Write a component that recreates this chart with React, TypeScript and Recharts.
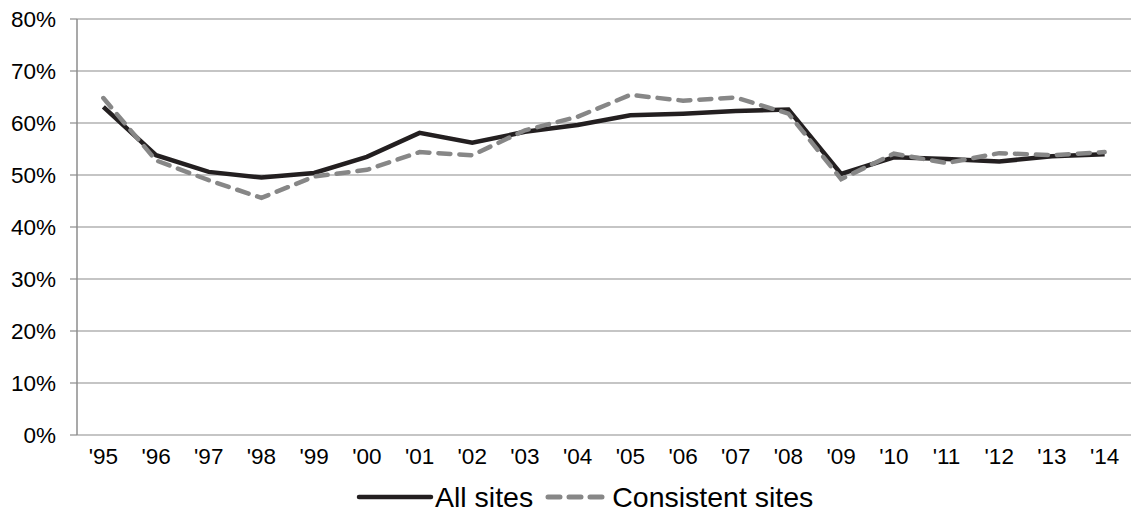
import React from "react";
import { LineChart, Line, XAxis, YAxis, CartesianGrid, Legend } from "recharts";

const years = ["'95", "'96", "'97", "'98", "'99", "'00", "'01", "'02", "'03", "'04", "'05", "'06", "'07", "'08", "'09", "'10", "'11", "'12", "'13", "'14"];
const allSites = [63.1, 53.8, 50.6, 49.5, 50.4, 53.5, 58.1, 56.2, 58.3, 59.6, 61.5, 61.8, 62.3, 62.6, 50.2, 53.4, 53.1, 52.6, 53.6, 54.0];
const consistentSites = [64.8, 52.8, 49.0, 45.6, 49.7, 51.0, 54.4, 53.8, 58.6, 61.2, 65.4, 64.3, 64.9, 61.8, 49.2, 54.1, 52.3, 54.2, 53.8, 54.4];
const yTicks = [0, 10, 20, 30, 40, 50, 60, 70, 80];

const data = years.map((label, i) => ({
  pos: i + 0.5,
  label,
  all: allSites[i],
  consistent: consistentSites[i],
}));
const boundaryTicks = years.map((_, i) => i).concat([years.length]);
const centerTicks = years.map((_, i) => i + 0.5);

const FONT = "'Liberation Sans', Arial, sans-serif";
const GRID = "#8c8c8c";
const SOLID = "#231f20";
const DASH = "#878787";

const LegendContent = () => (
  <div style={{ display: "flex", justifyContent: "flex-start", alignItems: "center", fontFamily: FONT, fontSize: 28.5, color: "#000", paddingLeft: 356, height: 30, lineHeight: "30px", whiteSpace: "nowrap" }}>
    <svg width={78} height={10} style={{ marginRight: 1 }}>
      <line x1={3} y1={5} x2={75} y2={5} stroke={SOLID} strokeWidth={4.5} strokeLinecap="round" />
    </svg>
    <span style={{ marginRight: 12 }}>All sites</span>
    <svg width={60} height={10} style={{ marginRight: 7 }}>
      <line x1={3} y1={5} x2={57} y2={5} stroke={DASH} strokeWidth={5} strokeLinecap="round" strokeDasharray="12 9" />
    </svg>
    <span>Consistent sites</span>
  </div>
);

export default function App() {
  return (
    <div style={{ position: "absolute", left: 0, top: 0, width: 1136, height: 513, background: "#fff" }}>
      <LineChart width={1136} height={513} data={data} margin={{ top: 19, right: 5, bottom: 0, left: 0 }}>
        <CartesianGrid vertical={false} stroke={GRID} strokeWidth={1.2} />
        <XAxis
          xAxisId="marks"
          type="number"
          dataKey="pos"
          domain={[0, years.length]}
          ticks={boundaryTicks}
          interval={0}
          height={0}
          tickSize={7}
          tick={() => null}
          stroke={GRID}
          axisLine={{ stroke: GRID, strokeWidth: 1.2 }}
          tickLine={{ stroke: GRID, strokeWidth: 1.2 }}
        />
        <XAxis
          xAxisId="labels"
          type="number"
          dataKey="pos"
          domain={[0, years.length]}
          ticks={centerTicks}
          interval={0}
          height={48}
          tickSize={0}
          tickMargin={13}
          axisLine={false}
          tickLine={false}
          tickFormatter={(v: number) => years[Math.floor(v)]}
          tick={{ fill: "#000", fontSize: 22.5, fontFamily: FONT }}
        />
        <YAxis
          type="number"
          domain={[0, 80]}
          ticks={yTicks}
          interval={0}
          width={77}
          tickSize={7}
          tickMargin={14}
          tickFormatter={(v: number) => `${v}%`}
          tick={{ fill: "#000", fontSize: 22.5, fontFamily: FONT }}
          axisLine={{ stroke: GRID, strokeWidth: 1.5 }}
          tickLine={{ stroke: GRID, strokeWidth: 1.2 }}
        />
        <Legend
          content={<LegendContent />}
          wrapperStyle={{ position: "absolute", top: 482, left: 0, width: 1136, height: 30 }}
        />
        <Line
          xAxisId="labels"
          type="linear"
          dataKey="all"
          name="All sites"
          stroke={SOLID}
          strokeWidth={4.5}
          dot={false}
          isAnimationActive={false}
        />
        <Line
          xAxisId="labels"
          type="linear"
          dataKey="consistent"
          name="Consistent sites"
          stroke={DASH}
          strokeWidth={4.5}
          strokeLinecap="round"
          strokeDasharray="12 9"
          dot={false}
          isAnimationActive={false}
        />
      </LineChart>
    </div>
  );
}
